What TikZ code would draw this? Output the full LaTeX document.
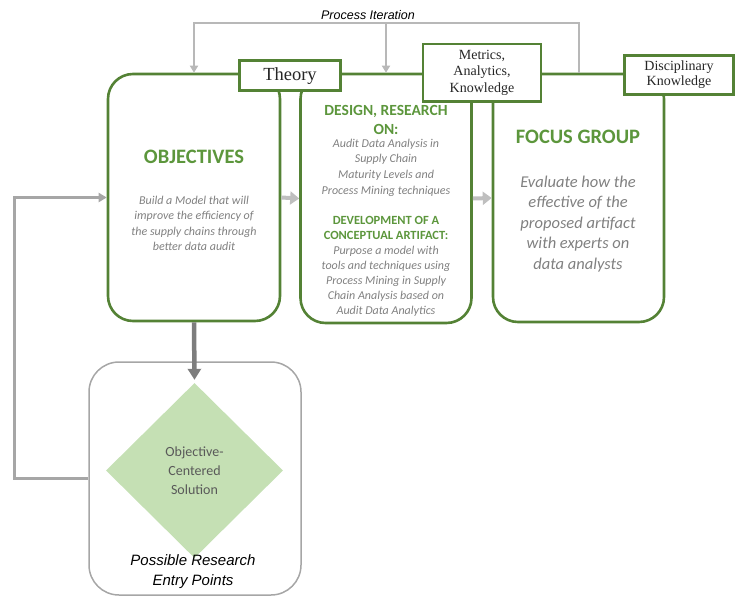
\documentclass[tikz,border=0pt]{standalone}
\usepackage{fontspec}
\usetikzlibrary{shapes.geometric,arrows.meta}
\newfontfamily\carl{Carlito}
\newfontfamily\tagserif{Liberation Serif}
\newfontfamily\capsans{Liberation Sans}
\definecolor{frame}{RGB}{84,130,53}
\definecolor{headgreen}{RGB}{92,150,60}
\definecolor{bodygray}{RGB}{128,128,128}
\definecolor{loopgray}{RGB}{184,184,184}
\definecolor{flowgray}{RGB}{191,191,191}
\definecolor{downgray}{RGB}{125,125,125}
\definecolor{backgray}{RGB}{166,166,166}
\definecolor{leaf}{RGB}{197,224,180}
\newcommand\fsz[2]{\fontsize{#1}{#2}\selectfont}

\begin{document}
\begin{tikzpicture}[x=1pt,y=-1pt,
  stagebox/.style={draw=frame,line width=2.6pt,rounded corners=25pt,inner sep=0pt},
  tagbox/.style={draw=frame,fill=white,line width=2.6pt,inner sep=0pt,align=center,text=black!85},
  head/.style={text=headgreen,align=center,inner sep=0pt},
  body/.style={text=bodygray,align=center,inner sep=0pt},
  loop/.style={draw=loopgray,line width=2pt,-{Triangle[length=7pt,width=8pt]}},
  flow/.style={draw=flowgray,line width=4pt,-{Triangle[length=9pt,width=13pt]}},
  down/.style={draw=downgray,line width=4.5pt,-{Triangle[length=11pt,width=13pt]}},
  back/.style={draw=backgray,line width=3pt,-{Triangle[length=8pt,width=9pt]}},
]
\useasboundingbox (0,0) rectangle (735,597);

% three stage boxes
\node[stagebox,minimum width=172pt,minimum height=247pt] (obj) at (194,197.5) {};
\node[stagebox,minimum width=171pt,minimum height=249pt] (des) at (386,198.5) {};
\node[stagebox,minimum width=171pt,minimum height=248pt] (fg) at (578.5,198) {};

% labels sitting on the top edge
\node[tagbox,minimum width=100.5pt,minimum height=30pt,font=\tagserif\fsz{18.5}{20}] (theory) at (290,75.7) {Theory};
\node[tagbox,minimum width=118pt,minimum height=57.5pt,font=\tagserif\fsz{14}{16.3}] (metrics) at (482,72.7) {Metrics,\\Analytics,\\Knowledge};
\node[tagbox,minimum width=109pt,minimum height=39.5pt,font=\tagserif\fsz{14}{15}] (disc) at (679,75) {Disciplinary\\Knowledge};

% objectives
\node[head,font=\carl\bfseries\fsz{20.5}{24}] (obj-title) at (194,157) {OBJECTIVES};
\node[body,font=\carl\itshape\fsz{12}{15.2}] (obj-text) at (194,223.4)
  {Build a Model that will\\improve the efficiency of\\the supply chains through\\better data audit};

% design and development
\node[head,font=\carl\bfseries\fsz{15.5}{19}] (des-title) at (386,119.5) {DESIGN, RESEARCH\\ON:};
\node[body,font=\carl\itshape\fsz{12}{15.7}] (des-text) at (386,167.5)
  {Audit Data Analysis in\\Supply Chain\\Maturity Levels and\\Process Mining techniques};
\node[head,font=\carl\bfseries\fsz{12.5}{14.5}] (dev-title) at (386,228) {DEVELOPMENT OF A\\CONCEPTUAL ARTIFACT:};
\node[body,font=\carl\itshape\fsz{12}{15.1}] (dev-text) at (386,281)
  {Purpose a model with\\tools and techniques using\\Process Mining in Supply\\Chain Analysis based on\\Audit Data Analytics};

% focus group
\node[head,font=\carl\bfseries\fsz{20.5}{24}] (fg-title) at (578,136.7) {FOCUS GROUP};
\node[body,font=\carl\itshape\fsz{16.5}{20.5}] (fg-text) at (578,224)
  {Evaluate how the\\effective of the\\proposed artifact\\with experts on\\data analysts};

% entry points
\node[draw=backgray,line width=1.5pt,rounded corners=30pt,minimum width=212pt,minimum height=233pt] (sol) at (195,478.5) {};
\node[diamond,fill=leaf,inner sep=0pt,minimum width=177pt,minimum height=175pt,shape aspect=1,
      align=center,text=black!65,font=\carl\fsz{14}{19.3}] (dia) at (194.5,470.5) {Objective-\\Centered\\Solution};
\node[font=\capsans\itshape\fsz{15}{20},align=center,inner sep=0pt] (entry) at (193,572) {Possible Research\\Entry Points};

% process iteration loop
\coordinate (looptop) at (0,22.7);
\node[font=\capsans\itshape\fsz{12.5}{14},inner sep=0pt] (iter) at (368,15) {Process Iteration};
\draw[loop] (fg.north) -- (fg.north |- looptop) -| (obj.north);
\draw[loop] (des.north |- looptop) -- (des.north);

% flow between stages
\draw[flow] (obj.east) -- (des.west);
\draw[flow] (des.east) -- (fg.west);
\draw[down] (obj.south) -- ([yshift=3pt]dia.north);

% return path from the entry points
\coordinate (backx) at (14,0);
\draw[back] (sol.west) -- (sol.west -| backx) |- (obj.west);
\end{tikzpicture}
\end{document}
